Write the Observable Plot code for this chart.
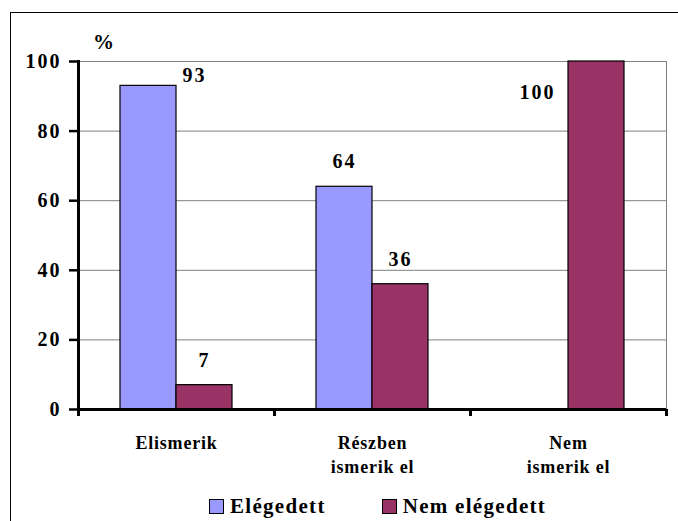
<!DOCTYPE html>
<html><head><meta charset="utf-8">
<script src="https://cdn.jsdelivr.net/npm/d3@7"></script>
<script src="https://cdn.jsdelivr.net/npm/@observablehq/plot@0.6"></script>
</head>
<body style="margin:0;background:#fff">
<div id="wrap" style="position:relative;width:678px;height:521px;overflow:hidden">
<div style="position:absolute;left:10px;top:12px;width:720px;height:600px;border:1px solid #000"></div>
<div id="chart" style="position:absolute;left:0;top:0"></div>
<div style="position:absolute;left:93px;top:30px;font-family:'Liberation Serif';font-weight:bold;font-size:21px">%</div>
<div id="legend" style="position:absolute;left:209px;top:494px;display:flex;align-items:center"></div>
</div>
<script>
const categories = ["Elismerik", "Részben ismerik el", "Nem ismerik el"];
const categoryLabels = ["Elismerik", "Részben\nismerik el", "Nem\nismerik el"];
const series = ["Elégedett", "Nem elégedett"];
const elegedett = [93, 64, null];
const nemElegedett = [7, 36, 100];
const colors = ["#9999FF", "#993366"];
const yTicks = [0, 20, 40, 60, 80, 100];

const data = categories.flatMap((c, i) => [
  {cat: c, series: series[0], value: elegedett[i]},
  {cat: c, series: series[1], value: nemElegedett[i]}
]).filter(d => d.value != null);

const W = 678, H = 521, ML = 78, MR = 12, MT = 61, MB = 112;
const bw = (W - ML - MR) / categories.length;
const font = "Liberation Serif";

const isTop = d => d.value === 93;
const isInside = d => d.value === 100;
const normal = d => !isTop(d) && !isInside(d);
const txt = {fontSize: 20, fontFamily: font, fontWeight: "bold"};

const chart = Plot.plot({
  width: W, height: H, marginLeft: ML, marginRight: MR, marginTop: MT, marginBottom: MB,
  style: {background: "transparent", color: "#000"},
  fx: {domain: categories, padding: 0, label: null, axis: null},
  x: {domain: series, paddingInner: 0, paddingOuter: 0.75, axis: null},
  y: {domain: [0, 100], axis: null},
  color: {domain: series, range: colors},
  marks: [
    Plot.ruleY(yTicks.filter(t => t > 0), {stroke: "#808080", strokeWidth: 1}),
    Plot.frame({anchor: "right", facetAnchor: "right", stroke: "#808080"}),
    Plot.barY(data, {fx: "cat", x: "series", y: "value", fill: "series", stroke: "#000", strokeWidth: 1.2}),
    Plot.text(data.filter(normal), {fx: "cat", x: "series", y: "value", text: d => String(d.value), dy: -25, ...txt}),
    Plot.text(data.filter(isTop), {fx: "cat", x: "series", y: "value", text: d => String(d.value), dx: 46, dy: -10, ...txt}),
    Plot.text(data.filter(isInside), {fx: "cat", x: "series", y: "value", text: d => String(d.value), dx: -59, dy: 31, ...txt}),
    Plot.axisY({ticks: yTicks, tickSize: 9, tickPadding: 8, strokeWidth: 2.5, label: null, ...txt}),
    Plot.frame({anchor: "left", facetAnchor: "left", stroke: "#000", strokeWidth: 3}),
    Plot.ruleY([0], {strokeWidth: 3}),
    Plot.axisFx({anchor: "bottom", tickSize: 0, tickPadding: 23, tickFormat: d => categoryLabels[categories.indexOf(d)], lineHeight: 1.3, label: null, ...txt, fontSize: 18}),
    Plot.axisFx({anchor: "bottom", tickSize: 7, tickFormat: () => "", dx: -bw / 2, strokeWidth: 3, label: null}),
    Plot.axisFx({anchor: "bottom", ticks: [categories[categories.length - 1]], tickSize: 7, tickFormat: () => "", dx: bw / 2, strokeWidth: 3, label: null})
  ]
});
chart.querySelectorAll("text").forEach(t => {
  t.style.fontFamily = font;
  t.style.fontWeight = "bold";
  t.style.letterSpacing = /^\d+$/.test(t.textContent.trim()) ? "2px" : "0.8px";
});
document.getElementById("chart").appendChild(chart);

const legend = document.getElementById("legend");
series.forEach((s, i) => {
  const it = document.createElement("div");
  it.style.display = "flex"; it.style.alignItems = "center"; it.style.marginRight = "56px";
  const sw = document.createElement("div");
  sw.style.width = "13px"; sw.style.height = "13px"; sw.style.border = "1px solid #000";
  sw.style.marginRight = "6px"; sw.style.background = colors[i];
  const tx = document.createElement("span"); tx.textContent = s;
  tx.style.fontFamily = font; tx.style.fontWeight = "bold"; tx.style.fontSize = "21px";
  tx.style.letterSpacing = "1.3px";
  it.appendChild(sw); it.appendChild(tx); legend.appendChild(it);
});
</script></body></html>
